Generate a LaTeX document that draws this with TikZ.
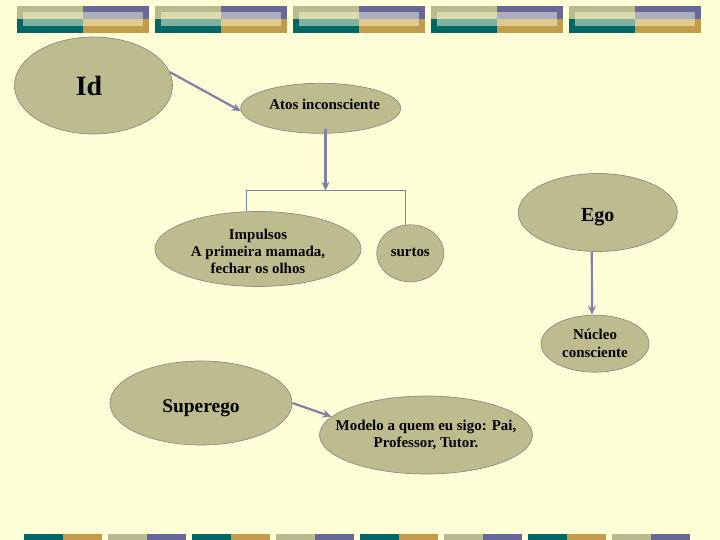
\documentclass[tikz,border=0pt]{standalone}
\usepackage{fontspec}
\setmainfont{Liberation Serif}
\usetikzlibrary{shapes.geometric, arrows.meta}

\definecolor{fundo}{HTML}{FFFFD7}
\definecolor{caqui}{HTML}{B9BA8E}
\definecolor{caquiclaro}{HTML}{DADCB0}
\definecolor{roxo}{HTML}{67679A}
\definecolor{roxoclaro}{HTML}{ADADC0}
\definecolor{verde}{HTML}{006666}
\definecolor{verdeclaro}{HTML}{80B2A0}
\definecolor{ouro}{HTML}{C29C4A}
\definecolor{ouroclaro}{HTML}{E0CB8F}
\definecolor{oliva}{HTML}{BCBC8F}
\definecolor{borda}{HTML}{8C8C84}
\definecolor{azul}{HTML}{8080A8}

\newcommand{\desce}[2]{\raisebox{-#1}[\height][\depth]{#2}}

\tikzset{
	balao/.style={ellipse, draw=borda, fill=oliva, line width=0.7bp, inner xsep=-15bp, inner ysep=-8bp, align=center},
	seta/.style={draw=azul, line width=2.2bp, -{Stealth[length=9bp, width=8bp]}},
	liga/.style={draw=azul, line width=0.9bp},
}

\begin{document}
\begin{tikzpicture}[x=1bp, y=-1bp]
				\fill[fundo] (0,0) rectangle (720,540);
				\useasboundingbox (0,0) rectangle (720,540);
				
				% faixas de cima
				\foreach \x in {17,155,293,431,569} {
					\fill[caqui] (\x,5.7) rectangle ++(66,13.8);
					\fill[roxo] (\x+66,5.7) rectangle ++(66,13.8);
					\fill[verde] (\x,19.5) rectangle ++(66,13.2);
					\fill[ouro] (\x+66,19.5) rectangle ++(66,13.2);
					\fill[caquiclaro] (\x+6,11.7) rectangle ++(60,7.8);
					\fill[roxoclaro] (\x+66,11.7) rectangle ++(60,7.8);
					\fill[verdeclaro] (\x+6,19.5) rectangle ++(60,6.5);
					\fill[ouroclaro] (\x+66,19.5) rectangle ++(60,6.5);
				}
				
				% faixas de baixo
				\foreach \x/\ca/\cb in {24/verde/ouro, 108/caqui/roxo, 192/verde/ouro, 276/caqui/roxo,
					360/verde/ouro, 444/caqui/roxo, 528/verde/ouro, 612/caqui/roxo} {
					\fill[\ca] (\x,534) rectangle ++(39,6);
					\fill[\cb] (\x+39,534) rectangle ++(39,6);
				}
				
				% elipses
				\node [balao, minimum width=158bp, minimum height=97bp, font=\fontsize{28}{30}\selectfont\bfseries] (Id) at (93.5,85.5) {\hspace*{-9bp}Id};
				\node [balao, minimum width=160bp, minimum height=50bp, font=\fontsize{15}{17}\selectfont\bfseries] (Atos) at (320.7,108.3) {\hspace*{8bp}\desce{-4bp}{Atos inconsciente}};
				\node [balao, minimum width=206bp, minimum height=75bp, font=\fontsize{15}{17.5}\selectfont\bfseries] (Imp) at (258,249) {\desce{4bp}{\begin{tabular}{@{}c@{}}Impulsos\\A primeira mamada,\\fechar os olhos\end{tabular}}};
				\node [balao, minimum width=67bp, minimum height=57bp, font=\fontsize{15}{17}\selectfont\bfseries] (surtos) at (410.3,253.3) {\desce{-1bp}{surtos}};
				\node [balao, minimum width=159bp, minimum height=78bp, font=\fontsize{20}{22}\selectfont\bfseries] (Ego) at (597.8,212.5) {\desce{5bp}{Ego}};
				\node [balao, minimum width=108bp, minimum height=57bp, font=\fontsize{15}{18}\selectfont\bfseries] (Nucleo) at (595,343.7) {Núcleo\\consciente};
				\node [balao, minimum width=182bp, minimum height=84bp, font=\fontsize{19.5}{21}\selectfont\bfseries] (Super) at (201,403) {\desce{5bp}{Superego}};
				\node [balao, minimum width=212bp, minimum height=78bp, font=\fontsize{15}{17}\selectfont\bfseries] (Modelo) at (426,435) {Modelo a quem eu sigo: Pai,\\Professor, Tutor.};
				
				% ligações
				\coordinate (juncao) at (325.5,190.7);
				\draw[liga] (Imp.107) -- ++(0,-21) -| (surtos.99);
				\draw[seta] (juncao |- Atos.south) ++(0,-5) -- (juncao);
				\draw[seta] (Id.10) -- (Atos.182);
				\draw[seta] ([xshift=-6bp]Ego.south) -- ([xshift=-3bp]Nucleo.north);
				\draw[seta] (Super.east) -- (Modelo.169);
\end{tikzpicture}
\end{document}
